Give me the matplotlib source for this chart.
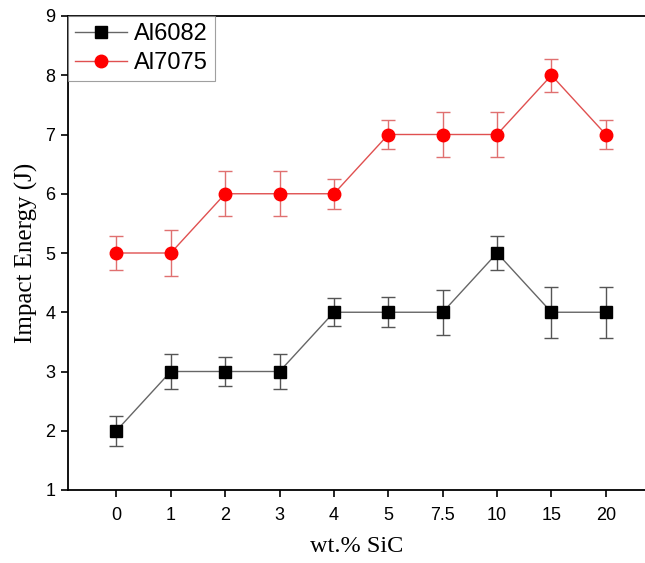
import matplotlib
matplotlib.use("Agg")
import matplotlib.pyplot as plt
import numpy as np

sic_labels = ["0", "1", "2", "3", "4", "5", "7.5", "10", "15", "20"]
al6082 = [2, 3, 3, 3, 4, 4, 4, 5, 4, 4]
al6082_err = [0.25, 0.29, 0.25, 0.29, 0.24, 0.25, 0.38, 0.29, 0.43, 0.43]
al7075 = [5, 5, 6, 6, 6, 7, 7, 7, 8, 7]
al7075_err = [0.29, 0.38, 0.38, 0.38, 0.25, 0.24, 0.38, 0.38, 0.28, 0.25]

plt.rcParams["font.family"] = ["Liberation Sans", "DejaVu Sans"]

fig = plt.figure(figsize=(6.45, 5.63), dpi=100)
ax = fig.add_axes([68 / 645, 1 - 490 / 563, (645 - 68) / 645, (490 - 16) / 563])

x = np.arange(len(sic_labels))

ax.errorbar(x, al6082, yerr=al6082_err, fmt="none", ecolor="#555555",
            elinewidth=1.0, capsize=5, capthick=1.0, zorder=2)
ax.plot(x, al6082, color="#666666", lw=1.0, marker="s", ms=8.5,
        mfc="black", mec="black", label="Al6082", zorder=3)

ax.errorbar(x, al7075, yerr=al7075_err, fmt="none", ecolor="#e07070",
            elinewidth=1.0, capsize=5, capthick=1.0, zorder=2)
ax.plot(x, al7075, color="#e05050", lw=1.0, marker="o", ms=9,
        mfc="#ff0000", mec="#ff0000", label="Al7075", zorder=3)

ax.set_xlim(-0.89, 9.72)
ax.set_ylim(1, 9)
ax.set_xticks(x)
ax.set_xticklabels(sic_labels)
ax.set_yticks(range(1, 10))
ax.tick_params(axis="both", direction="out", length=5, width=1.2,
               labelsize=13, pad=4)
ax.tick_params(axis="x", pad=7)

for side in ["left", "bottom", "top"]:
    ax.spines[side].set_linewidth(1.3)
ax.spines["right"].set_visible(False)

ax.set_xlabel("wt.% SiC", family=["Liberation Serif"], fontsize=17.5, labelpad=9)
ax.set_ylabel("Impact Energy (J)", family=["Liberation Serif"], fontsize=18, labelpad=5)

leg = ax.legend(loc="upper left", bbox_to_anchor=(0, 1), fontsize=17,
                frameon=True, fancybox=False, borderaxespad=0,
                handlelength=2.2, handletextpad=0.3, borderpad=0.3,
                labelspacing=0.3)
leg.get_frame().set_edgecolor("#888888")
leg.get_frame().set_linewidth(0.8)

fig.savefig("out.png", dpi=100)
